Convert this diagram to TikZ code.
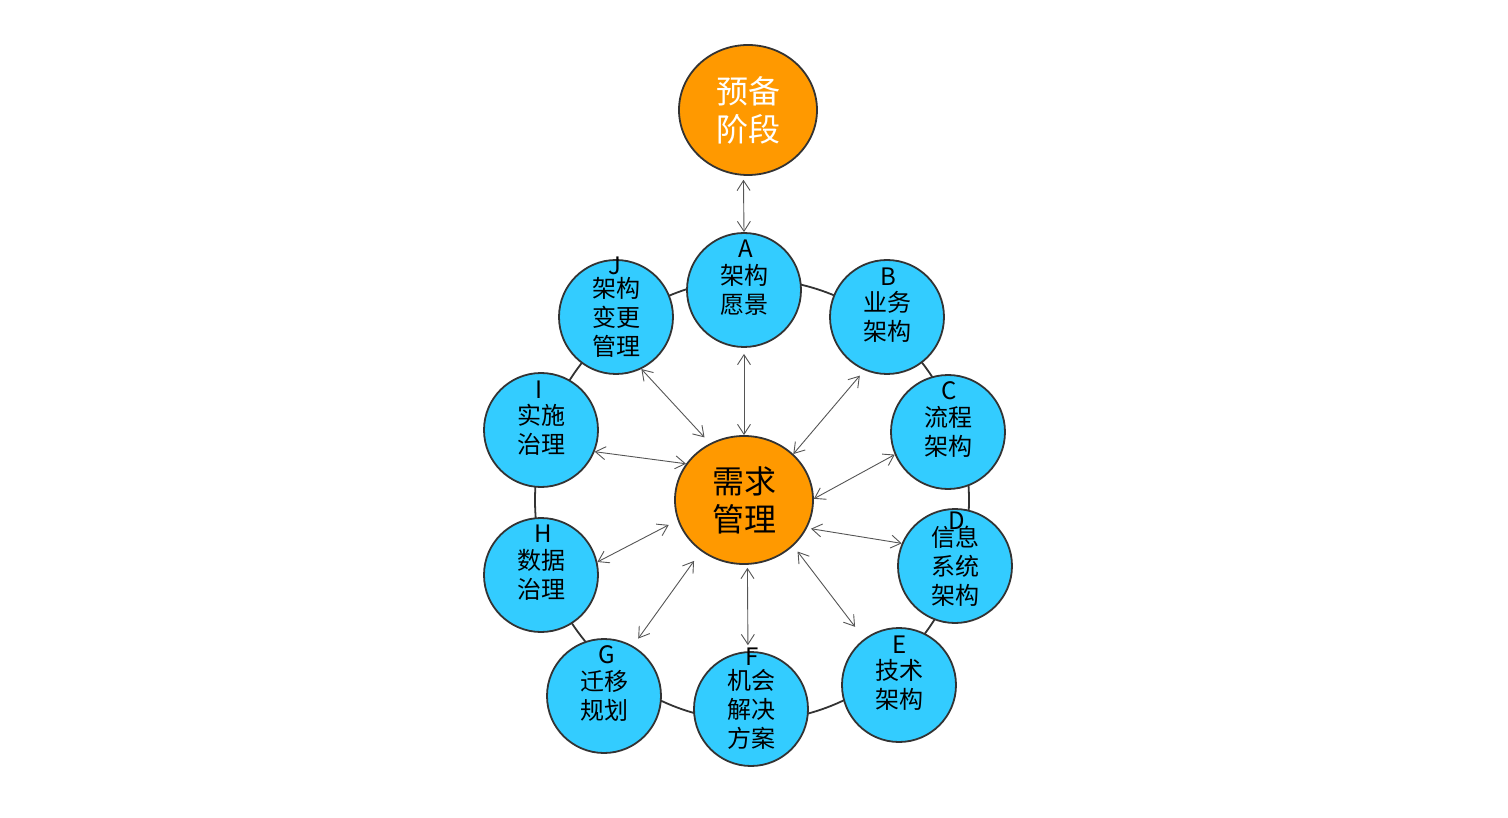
\documentclass[tikz,border=0pt]{standalone}
\usepackage{fontspec}
\setmainfont{Noto Sans CJK SC}
\usetikzlibrary{arrows.meta,shapes.geometric,calc}
\definecolor{bub}{HTML}{33CCFF}
\definecolor{org}{HTML}{FF9900}
\definecolor{edge}{HTML}{333333}
\definecolor{arrc}{HTML}{555555}
\begin{document}
\begin{tikzpicture}[x=1pt,y=-1pt,
 bubble/.style={circle,draw=edge,line width=1.8pt,fill=bub,minimum size=114pt,inner sep=0pt,align=center,font=\fontsize{24}{29}\selectfont},
 hub/.style={ellipse,draw=edge,line width=1.8pt,fill=org,minimum width=138pt,minimum height=128pt,inner sep=0pt,align=center,font=\fontsize{32}{38}\selectfont},
 letter/.style={inner sep=0pt,font=\fontsize{24}{29}\selectfont},
 link/.style={draw=arrc,line width=0.9pt,{Straight Barb[length=10pt,width=13pt]}-{Straight Barb[length=10pt,width=13pt]}}
]
\useasboundingbox (0,0) rectangle (1508,818);
\draw[edge,line width=1.8pt] (752,500) ellipse [x radius=217, y radius=221];

\node[hub,minimum height=130pt,text=white] (P) at (748,110) {预备\\阶段};
\node[hub] (M) at (744,500) {需求\\管理};
\node[bubble] (A) at (744,290) {架构\\愿景};
\node[bubble] (B) at (887,317) {业务\\架构};
\node[bubble] (C) at (948,432) {流程\\架构};
\node[bubble] (D) at (955,566) {信息\\系统\\架构};
\node[bubble] (E) at (899,685) {技术\\架构};
\node[bubble] (F) at (751,709) {机会\\解决\\方案};
\node[bubble] (G) at (604,696) {迁移\\规划};
\node[bubble] (H) at (541,575) {数据\\治理};
\node[bubble] (I) at (541,430) {实施\\治理};
\node[bubble] (J) at (616,317) {架构\\变更\\管理};

\node[letter] (lA) at ($(A)+(2,-41)$) {A};
\node[letter] (lB) at ($(B)+(1,-40)$) {B};
\node[letter] (lC) at ($(C)+(1,-41)$) {C};
\node[letter] (lD) at ($(D)+(2,-45)$) {D};
\node[letter] (lE) at ($(E)+(1,-40)$) {E};
\node[letter] (lF) at ($(F)+(1,-52)$) {F};
\node[letter] (lG) at ($(G)+(3,-41)$) {G};
\node[letter] (lH) at ($(H)+(2,-41)$) {H};
\node[letter] (lI) at ($(I)+(-2,-40)$) {I};
\node[letter] (lJ) at ($(J)+(-1,-51)$) {J};

\draw[link,shorten <=4pt] (P.-94) -- (A.90);
\draw[link,shorten <=6pt] (A.-90) -- (M.90);
\draw[link,shorten >=8pt] (J.-64) -- (M.121);
\draw[link,shorten <=7pt] (B.247) -- (M.43);
\draw[link] (I.-22) -- (M.148);
\draw[link] (C.203) -- (M.1);
\draw[link,shorten >=10pt] (H.13) -- (M.197);
\draw[link,shorten <=4pt] (M.-24) -- (D.157);
\draw[link,shorten <=9pt,shorten >=12pt] (G.60) -- (M.230);
\draw[link,shorten <=7pt,shorten >=15pt] (M.-43) -- (E.127);
\draw[link,shorten <=3pt,shorten >=6pt] (M.-87) -- (F.93);
\end{tikzpicture}
\end{document}
